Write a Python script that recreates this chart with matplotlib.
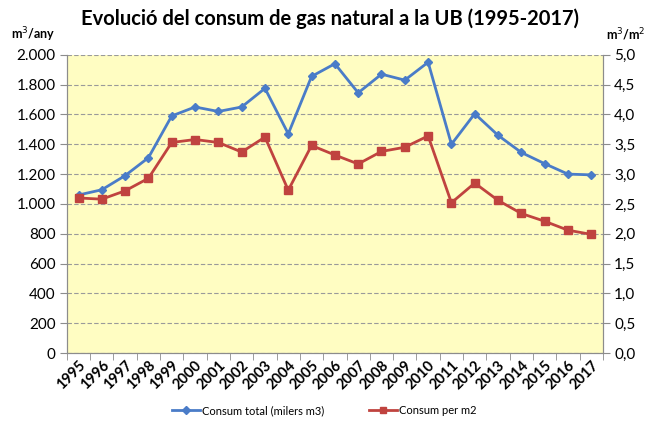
import matplotlib.pyplot as plt
from matplotlib.lines import Line2D
from matplotlib.ticker import FuncFormatter, FixedLocator, NullFormatter
import numpy as np

# dades llegides del gràfic
anys = [str(a) for a in range(1995, 2018)]
consum_total = [1060, 1095, 1190, 1310, 1590, 1650, 1620, 1650, 1775, 1470,
                1855, 1940, 1745, 1870, 1830, 1950, 1400, 1605, 1460, 1345,
                1270, 1200, 1195]
consum_m2 = [2.60, 2.58, 2.72, 2.93, 3.53, 3.58, 3.53, 3.37, 3.62, 2.73,
             3.48, 3.32, 3.17, 3.38, 3.45, 3.64, 2.52, 2.85, 2.56, 2.34,
             2.21, 2.06, 1.99]

plt.rcParams['font.family'] = ['Lato', 'DejaVu Sans']

blau = '#4A7CC8'
vermell = '#C0433F'
gris = '#8C8C8C'

fig = plt.figure(figsize=(6.49, 4.28), dpi=100)
ax = fig.add_axes([0.103, 0.175, 0.826, 0.697])
ax2 = ax.twinx()

x = np.arange(len(anys))
ax.set_facecolor('#FFFDC2')
ax.plot(x, consum_total, color=blau, lw=2, marker='D', ms=4, zorder=3)
ax2.plot(x, consum_m2, color=vermell, lw=2, marker='s', ms=5.5, zorder=3)

ax.set_xlim(-0.5, len(anys) - 0.5)
ax.set_ylim(0, 2000)
ax2.set_ylim(0, 5)
ax.set_yticks(np.arange(0, 2001, 200))
ax2.set_yticks(np.arange(0, 5.01, 0.5))
ax.yaxis.set_major_formatter(FuncFormatter(lambda v, p: f'{int(v):,}'.replace(',', '.')))
ax2.yaxis.set_major_formatter(FuncFormatter(lambda v, p: f'{v:.1f}'.replace('.', ',')))

ax.set_xticks(x)
ax.set_xticklabels(anys, rotation=45, ha='right', rotation_mode='anchor',
                   fontsize=10.5, fontweight='bold')
ax.tick_params(axis='x', length=0, pad=4)
ax.xaxis.set_minor_locator(FixedLocator(np.arange(-0.5, len(anys), 1)))
ax.xaxis.set_minor_formatter(NullFormatter())
ax.tick_params(axis='x', which='minor', length=5, color=gris, direction='out')
ax.tick_params(axis='y', length=5, color=gris, labelsize=11, pad=3)
ax2.tick_params(axis='y', length=5, color=gris, labelsize=11, pad=3)

ax.grid(axis='y', linestyle=(0, (4, 2)), color='#9A9A9A', lw=0.8)
ax.set_axisbelow(True)
for a in (ax, ax2):
    a.spines['top'].set_visible(False)
    for s in ('left', 'right', 'bottom'):
        a.spines[s].set_color(gris)

fig.text(0.508, 0.957, 'Evolució del consum de gas natural a la UB (1995-2017)',
         ha='center', va='center', fontsize=14.5, fontweight='bold')
fig.text(0.017, 0.92, 'm$^3$/any', ha='left', va='center', fontsize=9, fontweight='bold')
fig.text(0.994, 0.92, 'm$^3$/m$^2$', ha='right', va='center', fontsize=9, fontweight='bold')

handles = [Line2D([], [], color=blau, lw=2, marker='D', ms=4),
           Line2D([], [], color=vermell, lw=2, marker='s', ms=5)]
fig.legend(handles, ['Consum total (milers m3)', 'Consum per m2'],
           loc='center', bbox_to_anchor=(0.5, 0.04), ncol=2, frameon=False,
           fontsize=8, handlelength=2.5, handletextpad=0.2, columnspacing=4)

fig.savefig('out.png', dpi=100)
